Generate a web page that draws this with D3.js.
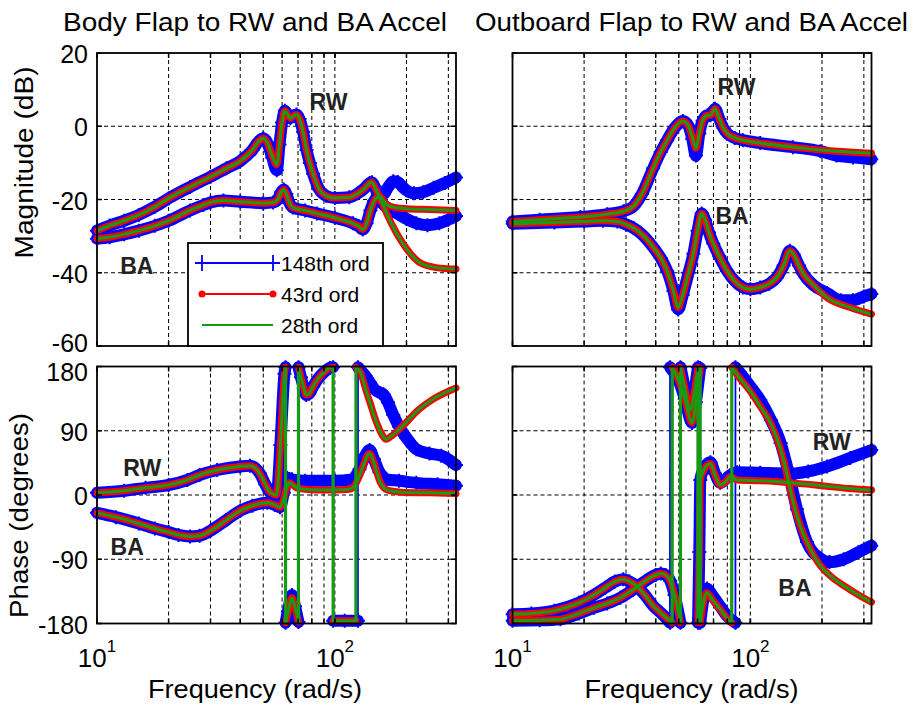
<!DOCTYPE html>
<html>
<head>
<meta charset="utf-8">
<script src="https://cdn.jsdelivr.net/npm/d3@7"></script>
<style>
  body { margin: 0; background: #fff; }
  svg { font-family: "Liberation Sans", Arial, Helvetica, sans-serif; }
</style>
</head>
<body>
<svg id="fig" width="914" height="711"></svg>
<script>
// ---- data: [frequency rad/s, value] ----
// Body flap, magnitude (dB)
var bfMagRW43 = [[10,-28.5],[11.3,-27.1],[13,-25.8],[15,-24.2],[17.5,-22],[20,-19.7],[24.6,-16.6],[30,-13.8],[35,-11.5],[40,-9.5],[45,-6.5],[48,-4],[50,-3.3],[52,-4.5],[54.5,-8],[57,-10.5],[58.5,-5],[60,1],[61.6,4.2],[63.5,3],[65,2.2],[67,2.8],[69,3.2],[71,2],[73.5,-1.5],[76,-6.5],[78.5,-10],[81,-13],[86,-17.3],[92,-19],[100,-19.6],[115,-19.4],[125,-18.3],[133,-17],[140,-15.5],[143,-15.3],[147,-16.5],[152,-18.5],[157,-19.6],[165,-21.4],[180,-22.2],[200,-22.5],[250,-22.7],[323,-23]];
var bfMagRW148 = [[10,-28.5],[11.3,-27.1],[13,-25.8],[15,-24.2],[17.5,-22],[20,-19.7],[24.6,-16.6],[30,-13.8],[35,-11.5],[40,-9.5],[45,-6.5],[48,-4],[50,-3.3],[52,-4.5],[54.5,-8.5],[57,-12],[58.5,-5],[60,1],[61.6,4.2],[63.5,3],[65,2.2],[67,2.8],[69,3.2],[71,2],[73.5,-1.5],[76,-6.5],[78.5,-10],[81,-13],[86,-17.3],[92,-19],[100,-19.6],[115,-19.4],[125,-18.3],[133,-17],[140,-15.5],[143,-15.3],[147,-16.5],[152,-18.5],[160,-18.5],[168,-16.5],[176,-15],[184,-15.2],[192,-16.5],[200,-17.5],[215,-18.3],[235,-18],[260,-16.8],[290,-15.5],[323,-14]];
var bfMagBA43 = [[10,-30.7],[11.3,-30.3],[13,-29.5],[15,-28.5],[17.5,-27.2],[20,-25.8],[24.6,-23],[28,-21.5],[30,-20.8],[34,-20.3],[40,-20.6],[50,-21],[55,-20.8],[57.5,-20],[59.5,-18],[61,-17.3],[62.5,-18.5],[64.5,-21],[66.5,-22.2],[75,-23],[84,-23.8],[100,-25],[119,-26.5],[126,-27.3],[131,-28.2],[136,-26.5],[141,-23],[146,-20.5],[151,-19.4],[157,-20.5],[165,-23.8],[182,-29.3],[200,-33.4],[227,-37.2],[267,-38.6],[323,-39]];
var bfMagBA148 = [[10,-30.7],[11.3,-30.3],[13,-29.5],[15,-28.5],[17.5,-27.2],[20,-25.8],[24.6,-23],[28,-21.5],[30,-20.8],[34,-20.3],[40,-20.6],[50,-21],[55,-20.8],[57.5,-20],[59.5,-18],[61,-17.3],[62.5,-18.5],[64.5,-21],[66.5,-22.2],[75,-23],[84,-23.8],[100,-25],[119,-26.5],[126,-27.3],[131,-28.2],[136,-26.5],[141,-23],[146,-20.5],[151,-19.4],[158,-21],[170,-22.8],[185,-24],[200,-25.3],[220,-26.5],[245,-27],[275,-26.5],[300,-25.5],[323,-24.5]];

// Outboard flap, magnitude (dB)
var ofMagRW43 = [[10,-26],[13,-25.5],[19.3,-24.8],[25,-24],[29.3,-23.2],[32.3,-21.8],[35,-18.5],[39,-11.5],[42,-7],[44.7,-3.8],[48,-0.5],[52,1.4],[55,0],[57,-3],[59,-6],[61,-2],[63,1.5],[66,3],[68,3],[71,4.8],[74,2],[77,-0.5],[80,-2],[86,-3.2],[93,-3.8],[110,-4.6],[151,-5.7],[210,-6.6],[260,-7],[323,-7.4]];
var ofMagRW148 = [[10,-26],[13,-25.5],[19.3,-24.8],[25,-24],[29.3,-23.2],[32.3,-21.8],[35,-18.5],[39,-11.5],[42,-7],[44.7,-3.8],[48,-0.5],[52,1.4],[55,0],[57,-3.5],[59,-8],[61,-2],[63,1.5],[66,3],[68,3],[71,4.8],[74,2],[77,-0.5],[80,-2],[86,-3.2],[93,-3.8],[110,-4.6],[151,-5.7],[197,-6.8],[230,-8],[270,-8.5],[323,-9]];
var ofMagBA43 = [[10,-26.6],[15,-26.3],[20,-26],[24,-25.8],[27.6,-26],[30,-26.8],[32.3,-27.8],[35,-29.5],[39,-33],[42,-36],[44.7,-39.5],[47.5,-45],[49.7,-49.5],[52,-46],[55,-40],[57.6,-34.8],[60,-28.5],[62.4,-23.8],[64.5,-25.5],[67,-29],[69.8,-32],[74,-35.5],[79.8,-39.5],[86,-42.3],[93,-44],[100,-44.5],[110,-44],[120,-43],[129,-41.3],[138,-38],[146.5,-34],[152,-35],[160,-38],[167,-40.3],[185,-43.5],[210,-46.8],[263,-49.5],[323,-51.3]];
var ofMagBA148 = [[10,-26.6],[15,-26.3],[20,-26],[24,-25.8],[27.6,-26],[30,-26.8],[32.3,-27.8],[35,-29.5],[39,-33],[42,-36],[44.7,-39.5],[47.5,-45],[49.7,-50],[52,-46],[55,-40],[57.6,-34.8],[60,-28.5],[62.4,-23.8],[64.5,-25.5],[67,-29],[69.8,-32],[74,-35.5],[79.8,-39.5],[86,-42.3],[93,-44],[100,-44.5],[110,-44],[120,-43],[129,-41.3],[138,-38],[146.5,-34],[152,-35],[160,-38],[167,-40.3],[185,-43.5],[210,-45.5],[240,-47.5],[270,-47.5],[300,-46.5],[323,-45.8]];

// Body flap, phase (deg)
var bfPhRW43 = [[10,3],[13,6],[16,10],[20,14],[24,21],[27,28],[32,35],[40,40],[44,41],[48.4,30],[51,15],[53.3,4],[56.9,0],[59,70],[61.4,170],[62,179],[62.05,-179],[63.5,-165],[66,-144],[68,-158],[70.3,-178],[70.35,179],[72,165],[74,150],[75.8,140],[78,142],[81,152],[85,163],[90,172],[95.3,178],[98.3,179],[98.35,-176],[110,-176],[122.6,-176],[122.65,179],[128,172],[135.6,145],[141,128],[146.3,111],[152,96],[158.8,83],[164,78],[172,82],[186.5,92],[200,102],[219,116],[258,134],[323,150]];
var bfPhRW148 = [[10,3],[13,6],[16,10],[20,14],[24,21],[27,28],[32,35],[40,40],[44,41],[48.4,30],[51,15],[53.3,4],[56.9,0],[59,70],[61.4,170],[62,179],[62.05,-179],[63.5,-163],[66,-140],[68,-156],[70.3,-178],[70.35,179],[72,165],[74,150],[75.8,140],[78,142],[81,152],[85,163],[90,172],[95.3,178],[98.3,179],[98.35,-176],[110,-176],[125,-176],[125.05,179],[128,175],[135,166],[140,158],[147,148],[155,143],[160,141],[167,130],[176,112],[186,96],[200,80],[220,64],[250,58],[280,55],[300,50],[323,42]];
var bfPhBA43 = [[10,-25],[12,-31],[15,-40],[17.5,-47],[20,-52],[22,-56],[24.6,-58],[27,-57],[30,-50],[35,-35],[40,-22],[45,-15],[52,-11],[56,-14],[58.8,-17],[61,-5],[63,12],[64.5,17],[66.5,14],[69,10],[75,8],[84,7],[100,7],[115,8],[122,15],[127,27],[133,45],[138,57],[140,58],[145,48],[150,32],[155,18],[162,9],[170,6],[190,4],[250,3],[323,2]];
var bfPhBA148 = [[10,-25],[12,-31],[15,-40],[17.5,-47],[20,-52],[22,-56],[24.6,-58],[27,-57],[30,-50],[35,-35],[40,-22],[45,-15],[52,-11],[56,-14],[58.8,-17],[61,3],[63,24],[66,22],[75,20],[100,20],[118,22],[127,36],[134,55],[140,63],[146,50],[154,32],[165,22],[186,20],[220,17],[270,15],[323,13]];

// Outboard flap, phase (deg)
var ofPhRW43 = [[10,-176],[13,-175.5],[15.9,-174],[19,-166],[22,-158],[25,-152],[28.4,-144],[32,-133],[36,-121],[40,-112],[42,-110],[44,-112],[46,-120],[48,-140],[50.8,-179],[50.85,179],[53,150],[55.9,119],[58,142],[60.2,179],[60.25,-179],[61,-80],[61.6,21],[64,36],[67.9,44],[71,28],[74.7,14],[78.5,18],[82.4,26],[88,21],[110,20],[150,17],[200,13],[260,9],[323,7]];
var ofPhRW148 = [[10,-176],[13,-175.5],[15.9,-174],[19,-166],[22,-158],[25,-152],[28.4,-144],[32,-133],[36,-121],[40,-112],[42,-110],[44,-112],[46,-120],[48,-140],[50.8,-179],[50.85,179],[53,150],[55.9,117],[58,142],[60.2,179],[60.25,-179],[61,-80],[61.6,21],[64,38],[67.9,46],[71,30],[74.7,17],[78.5,22],[82.4,28],[88,32],[110,31],[150,30],[175,33],[210,40],[263,52],[323,63]];
var ofPhBA43 = [[10,-167],[12,-166],[15,-162],[19,-151],[22,-140],[24.5,-130],[27,-121],[29.2,-118],[31,-121],[33.4,-128],[36,-140],[39,-155],[42,-165],[44.7,-173],[46.9,-179],[46.95,179],[50,160],[53,135],[56.9,101],[59,130],[61.5,178],[61.55,-179],[63.5,-150],[65.7,-137],[69,-146],[75,-161],[80,-173],[83.5,-179],[83.55,179],[90,164],[100,145],[110,124],[122,100],[134,64],[140,40],[145,17],[151,-8],[157,-29],[165,-50],[173,-66],[185,-85],[197,-99],[220,-115],[247,-127],[285,-140],[323,-150]];
var ofPhBA148 = [[10,-167],[12,-166],[15,-162],[19,-151],[22,-140],[24.5,-130],[27,-121],[29.2,-118],[31,-121],[33.4,-128],[36,-140],[39,-155],[42,-165],[44.7,-174],[45.9,-179],[45.95,179],[50,160],[53,135],[56.9,101],[59,130],[61.5,178],[61.55,-179],[63.5,-146],[65.7,-131],[69,-140],[75,-157],[80,-170],[86.5,-179],[86.55,179],[90,172],[100,152],[110,133],[122,105],[134,73],[145,30],[157,-20],[173,-66],[197,-89],[215,-94],[247,-90],[285,-80],[323,-71]];

// axes ticks and labels
var freqDomain = [10, 323];
var freqGrid = [20, 30, 40, 50, 60, 70, 80, 90, 100, 200, 300];
var freqMajor = [10, 100];
var magTicks = [-60, -40, -20, 0, 20];
var phaseTicks = [-180, -90, 0, 90, 180];
var titles = ["Body Flap to RW and BA Accel", "Outboard Flap to RW and BA Accel"];
var legendNames = ["148th ord", "43rd ord", "28th ord"];
// curve labels: [text, frequency, value]
var labelsBfMag = [["RW", 94, 4.4], ["BA", 14.7, -40.3]];
var labelsOfMag = [["RW", 87.4, 8.5], ["BA", 83.7, -26.6]];
var labelsBfPh = [["RW", 15.5, 27], ["BA", 13.4, -83.5]];
var labelsOfPh = [["RW", 220, 63], ["BA", 154, -142]];

// ---- layout ----
var svg = d3.select("#fig");
var plotW = 359;
var panels = [
    { left: 97,  top: 53,    bottom: 346,   y: [-60, 20],   ticks: magTicks,   showY: true,  showX: false,
      full: [bfMagRW148, bfMagBA148], red: [bfMagRW43, bfMagBA43], labels: labelsBfMag, titleX: 255 },
    { left: 512.5, top: 53,  bottom: 346,   y: [-60, 20],   ticks: magTicks,   showY: false, showX: false,
      full: [ofMagRW148, ofMagBA148], red: [ofMagRW43, ofMagBA43], labels: labelsOfMag, titleX: 691.5 },
    { left: 97,  top: 366.5, bottom: 623.5, y: [-180, 180], ticks: phaseTicks, showY: true,  showX: true,
      full: [bfPhRW148, bfPhBA148], red: [bfPhRW43, bfPhBA43], labels: labelsBfPh, titleX: 255 },
    { left: 512.5, top: 366.5, bottom: 623.5, y: [-180, 180], ticks: phaseTicks, showY: false, showX: true,
      full: [ofPhRW148, ofPhBA148], red: [ofPhRW43, ofPhBA43], labels: labelsOfPh, titleX: 691.5 }
];

var styles = [
    { color: "#0000ff", band: 12, thin: 1.8, cross: true },
    { color: "#ff0000", band: 7,  thin: 1.8 },
    { color: "#169b16", band: 3,  thin: 3.2 }
];

// split a series where the phase wraps around (+-180)
function splitWraps(data) {
    var segs = [[data[0]]], jumps = [];
    for (var i = 1; i < data.length; i++) {
        if (Math.abs(data[i][1] - data[i - 1][1]) > 250) {
            jumps.push([data[i - 1], data[i]]);
            segs.push([data[i]]);
        } else {
            segs[segs.length - 1].push(data[i]);
        }
    }
    return { segs: segs, jumps: jumps };
}

panels.forEach(function(p, pi) {
    var right = p.left + plotW;
    var x = d3.scaleLog().domain(freqDomain).range([p.left, right]);
    var y = d3.scaleLinear().domain(p.y).range([p.bottom, p.top]);
    var g = svg.append("g");

    // grid
    g.selectAll(".vgrid").data(freqGrid).enter().append("line")
        .attr("x1", function(d) { return x(d); }).attr("x2", function(d) { return x(d); })
        .attr("y1", p.top).attr("y2", p.bottom)
        .attr("stroke", "#000").attr("stroke-width", 1).attr("stroke-dasharray", "4,3");
    g.selectAll(".hgrid").data(p.ticks.slice(1, -1)).enter().append("line")
        .attr("x1", p.left).attr("x2", right)
        .attr("y1", function(d) { return y(d); }).attr("y2", function(d) { return y(d); })
        .attr("stroke", "#000").attr("stroke-width", 1).attr("stroke-dasharray", "4,3");

    // clip
    var cid = "clip" + pi;
    svg.append("defs").append("clipPath").attr("id", cid).append("rect")
        .attr("x", p.left - 7).attr("y", p.top - 7)
        .attr("width", plotW + 14).attr("height", p.bottom - p.top + 14);
    var curves = g.append("g").attr("clip-path", "url(#" + cid + ")");

    var line = d3.line()
        .x(function(d) { return x(d[0]); })
        .y(function(d) { return y(d[1]); })
        .curve(d3.curveMonotoneX);

    styles.forEach(function(s, si) {
        var sets = si === 0 ? p.full : p.red;
        sets.forEach(function(data) {
            var parts = splitWraps(data);
            parts.segs.forEach(function(seg) {
                curves.append("path")
                    .attr("d", line(seg))
                    .attr("fill", "none")
                    .attr("stroke", s.color)
                    .attr("stroke-width", s.band)
                    .attr("stroke-linejoin", "round")
                    .attr("stroke-linecap", "round");
            });
            parts.jumps.forEach(function(j) {
                curves.append("line")
                    .attr("x1", x(j[0][0])).attr("y1", y(j[0][1]))
                    .attr("x2", x(j[1][0])).attr("y2", y(j[1][1]))
                    .attr("stroke", s.color).attr("stroke-width", s.thin);
            });
            if (s.cross) {
                curves.selectAll(null).data(data).enter().append("path")
                    .attr("transform", function(d) { return "translate(" + x(d[0]) + "," + y(d[1]) + ")"; })
                    .attr("d", "M-7,0H7M0,-7V7")
                    .attr("stroke", s.color).attr("stroke-width", 2);
            }
        });
    });

    // frame
    g.append("rect")
        .attr("x", p.left).attr("y", p.top)
        .attr("width", plotW).attr("height", p.bottom - p.top)
        .attr("fill", "none").attr("stroke", "#000").attr("stroke-width", 1.8);

    // inside tick marks
    var xt = freqMajor.concat(freqGrid);
    g.selectAll(".xtb").data(xt).enter().append("path")
        .attr("d", function(d) {
            var xx = x(d);
            return "M" + xx + "," + p.bottom + "v-5M" + xx + "," + p.top + "v5";
        })
        .attr("stroke", "#000").attr("stroke-width", 1.5);
    g.selectAll(".ytb").data(p.ticks).enter().append("path")
        .attr("d", function(d) {
            var yy = y(d);
            return "M" + p.left + "," + yy + "h5M" + right + "," + yy + "h-5";
        })
        .attr("stroke", "#000").attr("stroke-width", 1.5);

    // y tick labels
    if (p.showY) {
        g.selectAll(".ylab").data(p.ticks).enter().append("text")
            .attr("x", 88)
            .attr("y", function(d, i) {
                var off = 10;
                if (i === 0 && !p.showX) off = 6;        // -60 sits just above the 180 below it
                if (i === p.ticks.length - 1 && p.showX) off = 14;
                return y(d) + off;
            })
            .attr("text-anchor", "end").attr("font-size", 25)
            .text(function(d) { return d; });
    }

    // x tick labels (10^n)
    if (p.showX) {
        freqMajor.forEach(function(f) {
            var t = g.append("text")
                .attr("x", x(f)).attr("y", 667)
                .attr("text-anchor", "middle").attr("font-size", 26)
                .text("10");
            t.append("tspan").attr("dy", -15).attr("font-size", 17)
                .text(String(Math.round(Math.log10(f))));
        });
        g.append("text")
            .attr("x", p.titleX).attr("y", 698)
            .attr("text-anchor", "middle").attr("font-size", 26)
            .attr("textLength", 214).attr("lengthAdjust", "spacingAndGlyphs")
            .text("Frequency (rad/s)");
    }

    // curve labels
    g.selectAll(".clab").data(p.labels).enter().append("text")
        .attr("x", function(d) { return x(d[1]); })
        .attr("y", function(d) { return y(d[2]); })
        .attr("text-anchor", "middle").attr("font-size", 23).attr("font-weight", "bold")
        .attr("fill", "#222")
        .text(function(d) { return d[0]; });
});

// titles
svg.append("text").attr("x", panels[0].titleX).attr("y", 31)
    .attr("text-anchor", "middle").attr("font-size", 26)
    .attr("textLength", 384).attr("lengthAdjust", "spacingAndGlyphs")
    .text(titles[0]);
svg.append("text").attr("x", panels[1].titleX).attr("y", 31)
    .attr("text-anchor", "middle").attr("font-size", 26)
    .attr("textLength", 433).attr("lengthAdjust", "spacingAndGlyphs")
    .text(titles[1]);

// y axis labels
svg.append("text")
    .attr("transform", "translate(33,162.5) rotate(-90)")
    .attr("text-anchor", "middle").attr("font-size", 25)
    .attr("textLength", 192).attr("lengthAdjust", "spacingAndGlyphs")
    .text("Magnitude (dB)");
svg.append("text")
    .attr("transform", "translate(28,515.5) rotate(-90)")
    .attr("text-anchor", "middle").attr("font-size", 25)
    .attr("textLength", 205).attr("lengthAdjust", "spacingAndGlyphs")
    .text("Phase (degrees)");

// legend
var leg = svg.append("g");
leg.append("rect").attr("x", 188).attr("y", 243).attr("width", 195).attr("height", 103)
    .attr("fill", "#fff").attr("stroke", "#000").attr("stroke-width", 1.8);
var legY = d3.scalePoint().domain(legendNames).range([263, 325]);
legendNames.forEach(function(name, i) {
    var s = styles[i], yy = legY(name);
    leg.append("line").attr("x1", 202).attr("x2", 273).attr("y1", yy).attr("y2", yy)
        .attr("stroke", s.color).attr("stroke-width", i === 2 ? 2 : 1.8);
    [202, 273].forEach(function(xx) {
        if (i === 0) {
            leg.append("path").attr("d", "M" + (xx - 7) + "," + yy + "h14M" + xx + "," + (yy - 8) + "v16")
                .attr("stroke", s.color).attr("stroke-width", 1.8);
        } else if (i === 1) {
            leg.append("circle").attr("cx", xx).attr("cy", yy).attr("r", 3.5).attr("fill", s.color);
        }
    });
    leg.append("text").attr("x", 281).attr("y", yy + 7.5)
        .attr("font-size", 21).text(name);
});
</script>
</body>
</html>
